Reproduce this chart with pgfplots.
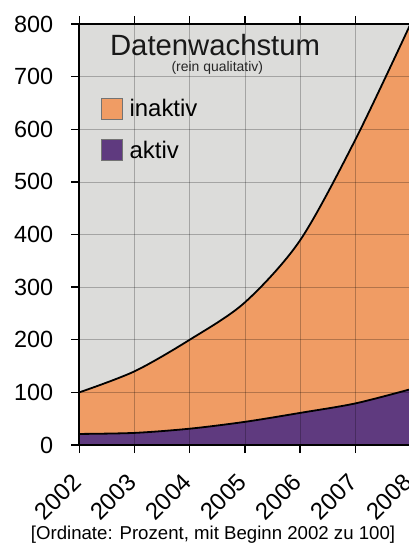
\documentclass[border=0pt]{standalone}
\usepackage{fontspec}
\setmainfont{Liberation Sans}
\usepackage{pgfplots}
\usepackage{pgfplotstable}
\pgfplotsset{compat=1.18}
\definecolor{bg}{HTML}{DCDCDA}
\definecolor{orng}{HTML}{F09C64}
\definecolor{purp}{HTML}{5F3A7F}
\pgfplotstableread{
year total aktiv
2002 100 21
2003 140 23
2004 200 31
2005 271 44
2006 389 61
2007 580 79
2008 800 106
}\datatable
\begin{document}
\begin{tikzpicture}
\path[use as bounding box] (-79.3bp,-102bp) rectangle (329.7bp,445bp);
\begin{axis}[
  at={(0,0)}, anchor=south west,
  scale only axis, width=331.2bp, height=421bp,
  xmin=2002, xmax=2008, ymin=0, ymax=800,
  xtick={2002,2003,...,2008}, ytick={0,100,...,800},
  grid=major, grid style={black, opacity=0.25, line width=0.6bp},
  axis on top,
  axis background/.style={fill=bg},
  axis line style={line width=1.6bp, black},
  tick align=outside, major tick length=8bp,
  tick style={line width=1.4bp, black},
  /pgf/number format/assume math mode=true,
  xticklabel style={xshift=-2.5bp, yshift=-25bp, rotate=45, anchor=east, inner sep=0pt, font=\fontsize{24}{24}\selectfont, /pgf/number format/1000 sep=},
  yticklabel style={anchor=east, inner sep=0pt, xshift=-18bp, font=\fontsize{23.5}{24}\selectfont},
  legend style={at={(axis cs:2002.39,660)}, anchor=north west, draw=none, fill=none, inner sep=0pt,
    font=\fontsize{24}{26}\selectfont, row sep=20bp, column sep=6bp, nodes={inner sep=1pt}},
  legend cell align=left,
  legend image code/.code={\draw[#1, draw=black!55, line width=0.6bp] (0bp,-10.5bp) rectangle (21bp,10.5bp);},
  clip=true,
]
\addplot[fill=orng, draw=none, smooth] table[x=year,y=total] {\datatable} \closedcycle;
\addlegendentry{inaktiv}
\addplot[fill=purp, draw=none, smooth] table[x=year,y=aktiv] {\datatable} \closedcycle;
\addlegendentry{aktiv}
\addplot[forget plot, black, line width=1.8bp, smooth] table[x=year,y=total] {\datatable};
\addplot[forget plot, black, line width=1.8bp, smooth] table[x=year,y=aktiv] {\datatable};
\node[anchor=base, font=\fontsize{29.4}{30}\selectfont, text=black!90] at (axis cs:2004.46,741) {Datenwachstum};
\node[anchor=base, font=\fontsize{14}{15}\selectfont, text=black!85] at (axis cs:2004.50,709) {(rein qualitativ)};
\end{axis}
\node[anchor=base, font=\fontsize{18.7}{20}\selectfont] at (133.7bp,-94bp) {[Ordinate: Prozent, mit Beginn 2002 zu 100]};
\end{tikzpicture}
\end{document}
